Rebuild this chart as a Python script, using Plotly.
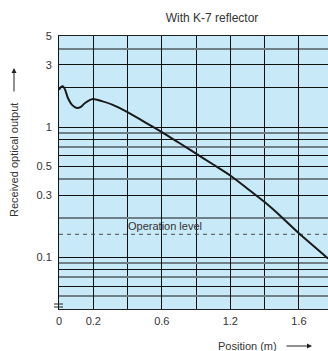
import numpy as np
import plotly.graph_objects as go

# ---- data (x in grid units: one unit per vertical grid line) ----
grid_pos = [0, 0.06, 0.12, 0.18, 0.26, 0.38, 0.52, 0.64, 0.76, 0.99, 1.25, 1.57, 2.0, 2.5,
            3.0, 3.5, 4.0, 4.5, 5.0, 5.5, 6.0, 6.5, 7.0, 7.85, 7.95]
received_output = [1.93, 2.03, 2.05, 1.93, 1.67, 1.48, 1.40, 1.43, 1.53, 1.64, 1.58, 1.48, 1.30, 1.09,
                   0.915, 0.757, 0.625, 0.515, 0.424, 0.336, 0.265, 0.203, 0.153, 0.098, 0.093]

x_tick_pos = [0, 1, 3, 5, 7]
x_tick_labels = ["0", "0.2", "0.6", "1.2", "1.6"]

y_dark_lines = [5, 3, 2, 1, 0.8, 0.6, 0.5, 0.3, 0.1, 0.08, 0.06]
y_gray_lines = [4, 0.9, 0.7, 0.4, 0.2, 0.09, 0.07, 0.05]
y_labelled = {5: "5", 3: "3", 1: "1", 0.5: "0.5", 0.3: "0.3", 0.1: "0.1"}

operation_level = 0.15
X_MIN, X_MAX = 0, 7.85
Y_MIN, Y_MAX = 0.04, 5

FONT = "Liberation Sans, Arial, sans-serif"
TXT = "#333333"

fig = go.Figure()

fig.add_trace(go.Scatter(
    x=[X_MIN, X_MAX + 0.5], y=[operation_level, operation_level],
    mode="lines", line=dict(color="#4a4a4a", width=1, dash="4px,4px"),
    hoverinfo="skip", showlegend=False))

fig.add_trace(go.Scatter(
    x=grid_pos, y=received_output, mode="lines",
    line=dict(color="#1a1a1a", width=2, shape="spline", smoothing=0.6),
    showlegend=False))

fig.update_xaxes(
    range=[X_MIN, X_MAX], tickvals=x_tick_pos, ticktext=x_tick_labels,
    showgrid=True, gridcolor="#111111", gridwidth=1,
    minor=dict(dtick=1, tick0=0, showgrid=True, gridcolor="#111111", gridwidth=1),
    showline=True, mirror=True, linecolor="#222222", linewidth=1,
    ticks="", zeroline=False, ticklabelstandoff=2,
    tickfont=dict(family=FONT, size=11, color=TXT))

fig.update_yaxes(
    type="log", range=[np.log10(Y_MIN), np.log10(Y_MAX)],
    tickvals=y_dark_lines, ticktext=[y_labelled.get(v, "") for v in y_dark_lines],
    showgrid=True, gridcolor="#111111", gridwidth=1,
    minor=dict(tickvals=y_gray_lines, showgrid=True, gridcolor="#6f7f88", gridwidth=1.5),
    showline=True, linecolor="#111111", linewidth=1,
    ticks="", zeroline=False, ticklabelstandoff=4,
    tickfont=dict(family=FONT, size=11, color=TXT))

annotations = [
    dict(text="Operation level", x=2, y=np.log10(operation_level), xref="x", yref="y",
         xanchor="left", yanchor="bottom", showarrow=False, xshift=-2,
         font=dict(family=FONT, size=11, color=TXT)),
    dict(text="Position (m)", x=(247 - 59) / 269, y=(309 - 346) / 273, xref="paper", yref="paper",
         xanchor="center", yanchor="middle", showarrow=False,
         font=dict(family=FONT, size=11, color=TXT)),
    dict(text="", x=(312 - 59) / 269, y=(309 - 346) / 273, xref="paper", yref="paper",
         showarrow=True, ax=-27, ay=0, arrowhead=2, arrowsize=1, arrowwidth=1, arrowcolor="#222222"),
    dict(text="Received optical output", x=(14 - 59) / 269, y=(309 - 160) / 273,
         xref="paper", yref="paper", textangle=-90, xanchor="center", yanchor="middle",
         showarrow=False, font=dict(family=FONT, size=11, color=TXT)),
    dict(text="", x=(14 - 59) / 269, y=(309 - 68) / 273, xref="paper", yref="paper",
         showarrow=True, ax=0, ay=25, arrowhead=2, arrowsize=1, arrowwidth=1, arrowcolor="#222222"),
]

shapes = [
    dict(type="line", xref="paper", yref="paper", x0=-5 / 269, x1=4 / 269,
         y0=(309 - 304) / 273, y1=(309 - 304) / 273, line=dict(color="#222222", width=1)),
    dict(type="line", xref="paper", yref="paper", x0=-5 / 269, x1=4 / 269,
         y0=(309 - 307) / 273, y1=(309 - 307) / 273, line=dict(color="#222222", width=1)),
]

fig.update_layout(
    width=328, height=351,
    margin=dict(l=59, r=0, t=36, b=42),
    paper_bgcolor="white", plot_bgcolor="#c8e9f8",
    title=dict(text="With K-7 reflector", x=212 / 328, xref="container", xanchor="center",
               y=1 - 18 / 351, yref="container", yanchor="middle",
               font=dict(family=FONT, size=12, color=TXT)),
    annotations=annotations, shapes=shapes,
    font=dict(family=FONT, color=TXT),
)

fig.write_html("out.html", config={"displayModeBar": False},
               post_script="document.body.style.margin='0';document.body.style.overflow='hidden';")
